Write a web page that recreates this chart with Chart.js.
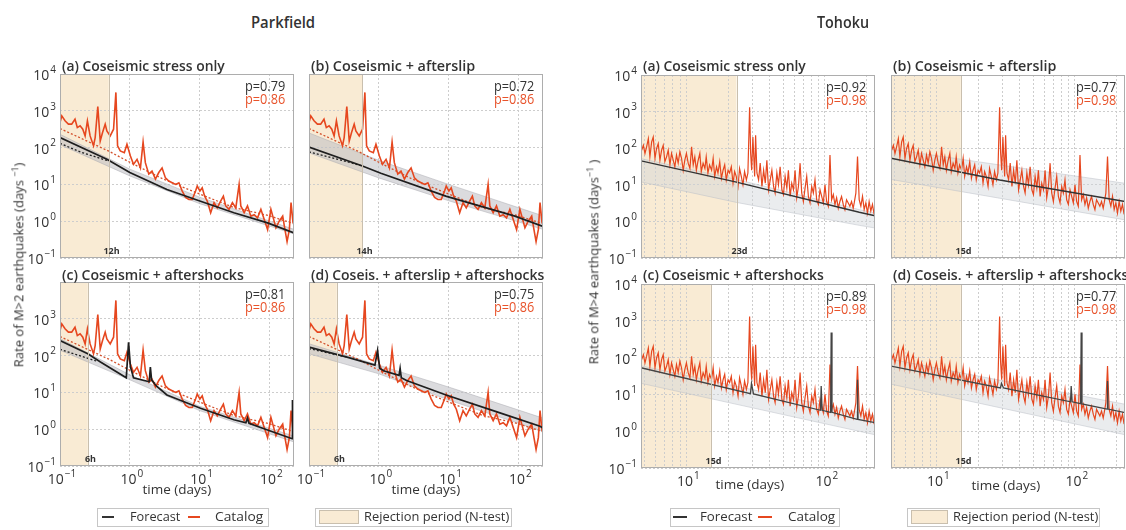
<!DOCTYPE html>
<html>
<head>
<meta charset="utf-8">
<script src="https://cdn.jsdelivr.net/npm/chart.js@4.4.1/dist/chart.umd.min.js"></script>
<style>
  body { margin: 0; width: 1126px; height: 530px; overflow: hidden; background: #fff; position: relative; font-family: 'Open Sans', sans-serif; color: #333; }
  canvas { position: absolute; }
  .t { position: absolute; left: 0; top: 0; white-space: nowrap; line-height: 1; transform-origin: 0 0; }
  .box { position: absolute; border: 1px solid #c6c6c6; box-sizing: border-box; background: #fff; }
  .rot { position: absolute; white-space: nowrap; font-size: 13px; line-height: 1; transform: translate(-50%, -50%) rotate(-90deg); }
</style>
</head>
<body>
<script>
const FONT = "'Open Sans', sans-serif"
const RED = '#e6471f'
const BLACK = '#1e1e1e'
const SHADE = '#f9ebd4'

// ---------- Parkfield ----------
// catalog rate (days, events/day)
const pkTime = [0.100, 0.106, 0.118, 0.132, 0.147, 0.164, 0.177, 0.194, 0.212, 0.229, 0.247, 0.270, 0.302, 0.319, 0.348, 0.377, 0.407, 0.444, 0.469, 0.524, 0.585, 0.632, 0.668, 0.730, 0.834, 0.910, 1.02, 1.13, 1.27, 1.42, 1.55, 1.67, 1.87, 2.08, 2.33, 2.60, 2.90, 3.24, 3.62, 4.05, 4.52, 5.05, 5.64, 6.30, 7.03, 7.84, 8.75, 9.25, 10.1, 10.9, 11.8, 12.9, 14.4, 16.1, 17.9, 20.0, 21.9, 23.7, 26.4, 29.5, 33.0, 36.8, 38.9, 43.5, 48.5, 54.2, 60.5, 67.6, 75.5, 84.3, 94.2, 105, 115, 124, 138, 155, 167, 179, 193, 204, 218]
const pkRate = [480, 730, 535, 435, 435, 590, 350, 390, 316, 208, 535, 208, 112, 187, 1300, 151, 257, 435, 285, 208, 316, 3160, 112, 81, 73, 123, 59, 35, 48, 28, 141, 39, 19, 23, 14, 21, 28, 15, 12.3, 11.1, 10, 11.1, 6.6, 4.4, 3.9, 3.9, 6.6, 9.0, 6.6, 8.1, 4.8, 3.5, 1.7, 3.2, 2.3, 3.5, 4.8, 2.6, 2.1, 3.2, 2.3, 10, 2.6, 1.7, 2.6, 1.37, 1.5, 1.23, 2.1, 1.12, 0.59, 2.1, 1.12, 0.66, 1.0, 1.37, 0.59, 0.28, 0.59, 3.2, 0.9]
// fit to catalog (red dotted)
const pkFitTime = [0.1, 0.5, 1, 3, 10, 30, 100, 225]
const pkFitRate = [330, 80, 40, 14, 5.5, 2.4, 1.4, 0.85]
// forecasts
const pkATime = [0.1, 0.47, 1, 3.4, 10.3, 31, 94, 225]
const pkARate = [187, 48, 21, 7.3, 3.5, 1.7, 0.9, 0.48]
const pkBTime = [0.1, 0.57, 1.07, 9.1, 89, 225]
const pkBRate = [104, 32, 20, 4.8, 1.37, 0.72]
const pkCTime = [0.1, 0.25, 0.38, 0.89, 0.96, 1.02, 1.13, 1.9, 1.97, 2.05, 2.4, 3.4, 10.3, 31, 46, 48.5, 51, 94, 212, 214, 218, 225]
const pkCRate = [257, 112, 67, 25, 230, 50, 25, 19.5, 49, 22, 15, 8.5, 3.7, 1.8, 1.5, 2.0, 1.45, 0.95, 0.55, 6.2, 0.6, 0.5]
const pkDTime = [0.1, 0.34, 0.88, 0.96, 1.03, 1.2, 1.95, 2.02, 2.1, 2.5, 9.2, 48, 204, 225]
const pkDRate = [171, 92, 55, 138, 45, 38, 29, 45, 25, 21, 8.5, 3.0, 1.2, 1.07]
// early dotted forecast
const pkADotTime = [0.1, 0.2, 0.5], pkADotRate = [130, 75, 43]
const pkBDotTime = [0.1, 0.3, 0.57], pkBDotRate = [76, 45, 32]
const pkCDotTime = [0.1, 0.34], pkCDotRate = [148, 70]
const pkDDotTime = [0.1, 0.34], pkDDotRate = [155, 92]
// ensemble spread
const pkBandTime = [0.1, 1, 10, 225]
const pkAUp = [230, 26, 4.5, 0.6], pkALo = [120, 17, 3.0, 0.45]
const pkBUp = [250, 45, 10, 1.4], pkBLo = [72, 15, 3.6, 0.6]
const pkCUp = [290, 30, 4.2, 0.65], pkCLo = [140, 22, 3.2, 0.45]
const pkDUp = [210, 55, 14, 2.0], pkDLo = [112, 32, 6.2, 0.87]

// ---------- Tohoku ----------
const thTime = [4.75, 4.89, 5.02, 5.16, 5.31, 5.45, 5.61, 5.76, 5.93, 6.09, 6.26, 6.44, 6.62, 6.80, 6.99, 7.19, 7.39, 7.60, 7.81, 8.03, 8.25, 8.48, 8.72, 8.97, 9.22, 9.48, 9.74, 10.0, 10.3, 10.6, 10.9, 11.2, 11.5, 11.8, 12.1, 12.5, 12.8, 13.2, 13.6, 13.9, 14.3, 14.7, 15.2, 15.6, 16.0, 16.5, 16.9, 17.4, 17.9, 18.4, 18.9, 19.4, 20.0, 20.5, 21.1, 21.7, 22.3, 22.9, 23.6, 24.2, 24.9, 25.6, 26.3, 27.1, 27.8, 28.6, 29.1, 29.6, 30.2, 31.1, 31.6, 32.3, 33.2, 34.1, 35.1, 36.1, 37.1, 38.1, 39.2, 40.3, 41.4, 42.6, 43.7, 45.0, 46.2, 47.5, 48.9, 50.2, 51.6, 53.1, 54.5, 56.1, 57.6, 59.3, 60.9, 62.6, 64.4, 66.2, 68.0, 69.9, 71.9, 73.9, 76.0, 78.1, 80.3, 82.5, 84.8, 87.2, 89.7, 92.2, 94.8, 97.4, 100.1, 102.9, 105.8, 108.8, 111.8, 115.0, 118.2, 121.5, 124.9, 128.3, 131.9, 135.7, 139.5, 143.3, 147.4, 151.5, 155.7, 160.1, 162.8, 167.3, 172.0, 176.8, 181.8, 186.9, 192.1, 197.5, 203.0, 208.6, 214.5, 220.5, 226.7]
const thRate = [88, 120, 72, 109, 182, 58, 148, 202, 53, 98, 134, 47, 88, 120, 43, 58, 88, 35, 72, 47, 31, 65, 39, 80, 53, 25, 47, 72, 39, 28, 109, 35, 58, 25, 43, 72, 23, 39, 28, 58, 21, 35, 25, 53, 17, 31, 21, 43, 15, 25, 35, 13.6, 25, 21, 31, 11.1, 23, 17, 9.0, 28, 17, 10, 23, 13.6, 21, 1310, 72, 25, 202, 17, 224, 21, 13.6, 39, 9.0, 25, 11.1, 47, 7.3, 13.6, 25, 9.0, 6.0, 21, 10, 31, 7.3, 5.4, 17, 8.1, 25, 4.8, 11.1, 7.3, 25, 4.4, 9.0, 39, 6.0, 3.5, 8.1, 17, 4.8, 3.2, 9.0, 6.0, 13.6, 3.9, 2.9, 7.3, 4.8, 3.2, 10, 3.5, 2.6, 65, 3.9, 5.4, 2.9, 4.4, 2.3, 3.5, 4.8, 2.9, 2.1, 3.9, 3.2, 2.6, 3.5, 2.3, 3.2, 5.9, 59, 3.9, 2.6, 4.8, 2.1, 3.2, 1.7, 3.5, 1.9, 2.9, 1.55]
const thATime = [4.7, 23, 177, 230], thARate = [45, 11.8, 1.78, 1.43]
const thBTime = [4.7, 28.6, 230], thBRate = [53, 13.5, 3.5]
const thSpikeTime = [4.7, 29, 29.5, 30.5, 93, 94, 95.5, 110, 111, 112.5, 171, 172, 173.5, 230]
const thCRate = [53, 10.5, 20, 10.3, 3.7, 17, 3.7, 3.25, 480, 3.25, 2.1, 25, 2.1, 1.7]
const thDRate = [59, 15, 20, 15, 6.3, 17, 6.3, 5.6, 480, 5.5, 4.0, 23, 4.0, 3.2]
const thABandTime = [4.7, 23, 177, 230]
const thAUp = [52, 14, 2.1, 1.7], thALo = [12, 3.3, 0.78, 0.66]
const thBandTime = [4.7, 230]
const thBUp = [95, 11], thBLo = [14, 1.1]
const thCUp = [60, 2.6], thCLo = [20, 0.8]
const thDUp = [90, 5.4], thDLo = [19, 0.8]

// axes
const yGrid = [0.1, 1, 10, 100, 1000, 10000]
const pkXGrid = [0.1, 1, 10, 100]
const thXGrid = [5, 6, 7, 8, 9, 10, 20, 30, 40, 50, 60, 70, 80, 90, 100, 200]

const pts = (t, r) => t.map((v, i) => ({ x: v, y: r[i] }))

Chart.defaults.font.family = FONT

const TOP = 10 // canvas margin above the plot box

function label(html, x, y, o = {}) {
  const el = document.createElement('div')
  el.className = 't'
  el.innerHTML = html
  el.style.fontSize = (o.size || 13) + 'px'
  el.style.fontWeight = o.weight || 400
  el.style.color = o.color || '#333'
  document.body.appendChild(el)
  const w = el.offsetWidth
  const h = el.offsetHeight
  const sx = o.w ? o.w / w : 1
  const align = o.align || 'left'
  const left = align === 'left' ? x : align === 'center' ? x - w * sx / 2 : x - w * sx
  el.style.transform = `translate(${left}px,${y - h / 2}px) scaleX(${sx})`
}

function pow10(ctx, v, x, y, align) {
  const e = Math.round(Math.log10(v))
  const exp = e < 0 ? '\u2212' + (-e) : String(e)
  ctx.font = `14px ${FONT}`
  const wb = ctx.measureText('10').width
  ctx.font = `10px ${FONT}`
  const we = ctx.measureText(exp).width
  const total = wb + we + 1
  const x0 = align === 'right' ? x - total : x - total / 2
  ctx.fillStyle = '#333'
  ctx.textAlign = 'left'
  ctx.textBaseline = 'middle'
  ctx.font = `14px ${FONT}`
  ctx.fillText('10', x0, y)
  ctx.font = `10px ${FONT}`
  ctx.fillText(exp, x0 + wb + 1, y - 6)
}

const deco = {
  id: 'deco',
  beforeDraw(chart, args, o) {
    const { ctx, chartArea: a, scales: { x } } = chart
    const xr = x.getPixelForValue(o.rej)
    ctx.save()
    ctx.fillStyle = SHADE
    ctx.fillRect(a.left, a.top, xr - a.left, a.bottom - a.top)
    ctx.restore()
  },
  afterDatasetsDraw(chart, args, o) {
    const { ctx, chartArea: a, scales: { x } } = chart
    const xr = Math.round(x.getPixelForValue(o.rej)) + 0.5
    ctx.save()
    ctx.strokeStyle = '#c9bfae'
    ctx.lineWidth = 1
    ctx.beginPath()
    ctx.moveTo(xr, a.top)
    ctx.lineTo(xr, a.bottom)
    ctx.stroke()
    ctx.fillStyle = '#333'
    ctx.font = `bold 9px ${FONT}`
    ctx.textAlign = 'center'
    ctx.textBaseline = 'middle'
    ctx.fillText(o.rejText, xr + 2, a.bottom - 7)
    ctx.strokeStyle = '#adadad'
    ctx.strokeRect(a.left + 0.5, a.top + 0.5, a.right - a.left - 1, a.bottom - a.top - 1)
    ctx.restore()
  },
  afterDraw(chart, args, o) {
    const { ctx, chartArea: a, scales: { x, y } } = chart
    ctx.save()
    ;(o.yLabels || []).forEach(v => pow10(ctx, v, a.left - 4, y.getPixelForValue(v) + 2, 'right'))
    ;(o.xLabels || []).forEach(v => pow10(ctx, v, x.getPixelForValue(v) + 2, a.bottom + 14, 'center'))
    ctx.restore()
  }
}

function panelSets(o) {
  const ds = [
    { data: o.fc, borderColor: o.fcColor || BLACK, borderWidth: o.fcW || 1.7 },
    { data: o.cat, borderColor: RED, borderWidth: o.catW || 1.6 }
  ]
  if (o.dot) ds.push({ data: o.dot, borderColor: BLACK, borderWidth: 1.3, borderDash: [2, 2] })
  if (o.fit) ds.push({ data: o.fit, borderColor: '#d2502c', borderWidth: 1.3, borderDash: [2, 2] })
  ds.push({ data: o.up, borderColor: o.bandLine, borderWidth: 0.7, fill: false })
  ds.push({ data: o.lo, borderColor: o.bandLine, borderWidth: 0.7, fill: '-1', backgroundColor: o.bandFill })
  ds.forEach(d => {
    d.pointRadius = 0
    d.tension = 0
    if (d.fill === undefined) d.fill = false
  })
  return ds
}

function panel(p) {
  const W = p.r - p.l + 56
  const H = p.b - p.t + 30 + TOP
  const canvas = document.createElement('canvas')
  canvas.width = W
  canvas.height = H
  canvas.style.left = (p.l - 50) + 'px'
  canvas.style.top = (p.t - TOP) + 'px'
  canvas.style.width = W + 'px'
  canvas.style.height = H + 'px'
  document.body.appendChild(canvas)
  const gridOpts = { color: '#cdcdcd', lineWidth: 1, drawTicks: false }
  new Chart(canvas, {
    type: 'line',
    data: { datasets: p.datasets },
    options: {
      responsive: false,
      animation: false,
      devicePixelRatio: 1,
      events: [],
      layout: { padding: { top: TOP, right: 6, left: 0, bottom: 0 } },
      scales: {
        x: {
          type: 'logarithmic', min: p.xr[0], max: p.xr[1],
          afterBuildTicks: s => { s.ticks = p.xGrid.map(v => ({ value: v })) },
          afterFit: s => { s.height = 30 },
          ticks: { display: false },
          grid: gridOpts,
          border: { display: false, dash: [2, 2] }
        },
        y: {
          type: 'logarithmic', min: 0.1, max: 10000,
          afterBuildTicks: s => { s.ticks = yGrid.map(v => ({ value: v })) },
          afterFit: s => { s.width = 50 },
          ticks: { display: false },
          grid: gridOpts,
          border: { display: false, dash: [2, 2] }
        }
      },
      plugins: {
        legend: { display: false },
        tooltip: { enabled: false },
        deco: { rej: p.rej, rejText: p.rejText, yLabels: p.yLabels, xLabels: p.xLabels }
      }
    },
    plugins: [deco]
  })
  label(p.title, p.l + 2, p.t < 150 ? 65 : 274, { size: 15, weight: 600, w: p.titleW })
  label('p=' + p.pf, p.r - 9, p.t + 12, { size: 14, color: '#333', align: 'right', w: 40 })
  label('p=' + p.pc, p.r - 9, p.t + 25, { size: 14, color: '#e8532b', align: 'right', w: 40 })
}

const pkGray = { bandLine: 'rgba(170,170,175,0.7)', bandFill: 'rgba(190,190,195,0.55)' }
const thGray = { bandLine: 'rgba(185,190,198,0.7)', bandFill: 'rgba(208,212,218,0.45)' }
const pkCat = pts(pkTime, pkRate)
const pkFit = pts(pkFitTime, pkFitRate)
const thCat = pts(thTime, thRate)

const panels = [
  { l: 60, t: 74, r: 294, b: 258, xr: [0.1, 225], xGrid: pkXGrid, rej: 0.5, rejText: '12h',
    title: '(a) Coseismic stress only', titleW: 163, pf: '0.79', pc: '0.86', yLabels: yGrid,
    datasets: panelSets({ fc: pts(pkATime, pkARate), cat: pkCat, dot: pts(pkADotTime, pkADotRate), fit: pkFit, up: pts(pkBandTime, pkAUp), lo: pts(pkBandTime, pkALo), ...pkGray }) },
  { l: 309, t: 74, r: 543, b: 258, xr: [0.1, 225], xGrid: pkXGrid, rej: 0.583, rejText: '14h',
    title: '(b) Coseismic + afterslip', titleW: 164, pf: '0.72', pc: '0.86',
    datasets: panelSets({ fc: pts(pkBTime, pkBRate), cat: pkCat, dot: pts(pkBDotTime, pkBDotRate), fit: pkFit, up: pts(pkBandTime, pkBUp), lo: pts(pkBandTime, pkBLo), ...pkGray }) },
  { l: 60, t: 282, r: 294, b: 466, xr: [0.1, 225], xGrid: pkXGrid, rej: 0.25, rejText: '6h',
    title: '(c) Coseismic + aftershocks', titleW: 182, pf: '0.81', pc: '0.86', yLabels: [0.1, 1, 10, 100, 1000], xLabels: pkXGrid,
    datasets: panelSets({ fc: pts(pkCTime, pkCRate), cat: pkCat, dot: pts(pkCDotTime, pkCDotRate), fit: pkFit, up: pts(pkBandTime, pkCUp), lo: pts(pkBandTime, pkCLo), ...pkGray }) },
  { l: 309, t: 282, r: 543, b: 466, xr: [0.1, 225], xGrid: pkXGrid, rej: 0.25, rejText: '6h',
    title: '(d) Coseis. + afterslip + aftershocks', titleW: 233, pf: '0.75', pc: '0.86', xLabels: pkXGrid,
    datasets: panelSets({ fc: pts(pkDTime, pkDRate), cat: pkCat, dot: pts(pkDDotTime, pkDDotRate), fit: pkFit, up: pts(pkBandTime, pkDUp), lo: pts(pkBandTime, pkDLo), ...pkGray }) },
  { l: 641, t: 75, r: 875, b: 258, xr: [4.7, 230], xGrid: thXGrid, rej: 23, rejText: '23d',
    title: '(a) Coseismic stress only', titleW: 163, pf: '0.92', pc: '0.98', yLabels: yGrid,
    datasets: panelSets({ fc: pts(thATime, thARate), fcColor: '#333', fcW: 1.4, cat: thCat, catW: 1.2, up: pts(thABandTime, thAUp), lo: pts(thABandTime, thALo), ...thGray }) },
  { l: 891, t: 75, r: 1125, b: 258, xr: [4.7, 230], xGrid: thXGrid, rej: 15, rejText: '15d',
    title: '(b) Coseismic + afterslip', titleW: 163, pf: '0.77', pc: '0.98',
    datasets: panelSets({ fc: pts(thBTime, thBRate), fcColor: '#333', fcW: 1.4, cat: thCat, catW: 1.2, up: pts(thBandTime, thBUp), lo: pts(thBandTime, thBLo), ...thGray }) },
  { l: 641, t: 284, r: 875, b: 468, xr: [4.7, 230], xGrid: thXGrid, rej: 15, rejText: '15d',
    title: '(c) Coseismic + aftershocks', titleW: 181, pf: '0.89', pc: '0.98', yLabels: yGrid, xLabels: [10, 100],
    datasets: panelSets({ fc: pts(thSpikeTime, thCRate), fcColor: '#444', fcW: 1.3, cat: thCat, catW: 1.2, up: pts(thBandTime, thCUp), lo: pts(thBandTime, thCLo), ...thGray }) },
  { l: 891, t: 284, r: 1125, b: 468, xr: [4.7, 230], xGrid: thXGrid, rej: 15, rejText: '15d',
    title: '(d) Coseis. + afterslip + aftershocks', titleW: 235, pf: '0.77', pc: '0.98', xLabels: [10, 100],
    datasets: panelSets({ fc: pts(thSpikeTime, thDRate), fcColor: '#444', fcW: 1.3, cat: thCat, catW: 1.2, up: pts(thBandTime, thDUp), lo: pts(thBandTime, thDLo), ...thGray }) }
]
panels.forEach(panel)

// headings and axis titles
label('Parkfield', 283, 22, { size: 16, weight: 600, align: 'center', w: 64 })
label('Tohoku', 843, 22, { size: 16, weight: 600, align: 'center', w: 52 })
label('time (days)', 177, 490, { size: 13.5, align: 'center' })
label('time (days)', 426, 490, { size: 13.5, align: 'center' })
label('time (days)', 750, 485, { size: 13.5, align: 'center' })
label('time (days)', 1006, 486, { size: 13.5, align: 'center' })

function rotLabel(html, x, y) {
  const el = document.createElement('div')
  el.className = 'rot'
  el.innerHTML = html
  el.style.left = x + 'px'
  el.style.top = y + 'px'
  document.body.appendChild(el)
}
rotLabel('Rate of M&gt;2 earthquakes (days <sup style="font-size:9px">\u22121</sup>)', 18, 265)
rotLabel('Rate of M&gt;4 earthquakes (days<sup style="font-size:9px">\u22121</sup> )', 593, 262)

// legends
function box(x, y, w, h, bg, border) {
  const el = document.createElement('div')
  el.className = 'box'
  el.style.left = x + 'px'
  el.style.top = y + 'px'
  el.style.width = w + 'px'
  el.style.height = h + 'px'
  if (bg) el.style.background = bg
  if (border) el.style.border = border
  document.body.appendChild(el)
}
function legend(o) {
  box(o.x1, 508, o.w1, 19)
  box(o.ln1, 516, o.lnW, 1.6, '#333', 'none')
  label('Forecast', o.f, 517, { size: 13.5, w: o.fw })
  box(o.ln2, 516, o.lnW, 1.6, RED, 'none')
  label('Catalog', o.c, 517, { size: 13.5, w: o.cw })
  box(o.x2, 508, o.w2, 19)
  box(o.x2 + 4, 510, o.sw, 14, SHADE, '1px solid #c9bfae')
  label('Rejection period (N-test)', o.x2 + o.sw + 9, 517, { size: 13.5, w: 145 })
}
legend({ x1: 97, w1: 172, ln1: 102, ln2: 188, lnW: 12, f: 130, fw: 50, c: 215, cw: 48, x2: 315, w2: 197, sw: 40 })
legend({ x1: 670, w1: 170, ln1: 673, ln2: 758, lnW: 14, f: 700, fw: 52, c: 788, cw: 47, x2: 907, w2: 193, sw: 37 })
</script>
</body>
</html>
